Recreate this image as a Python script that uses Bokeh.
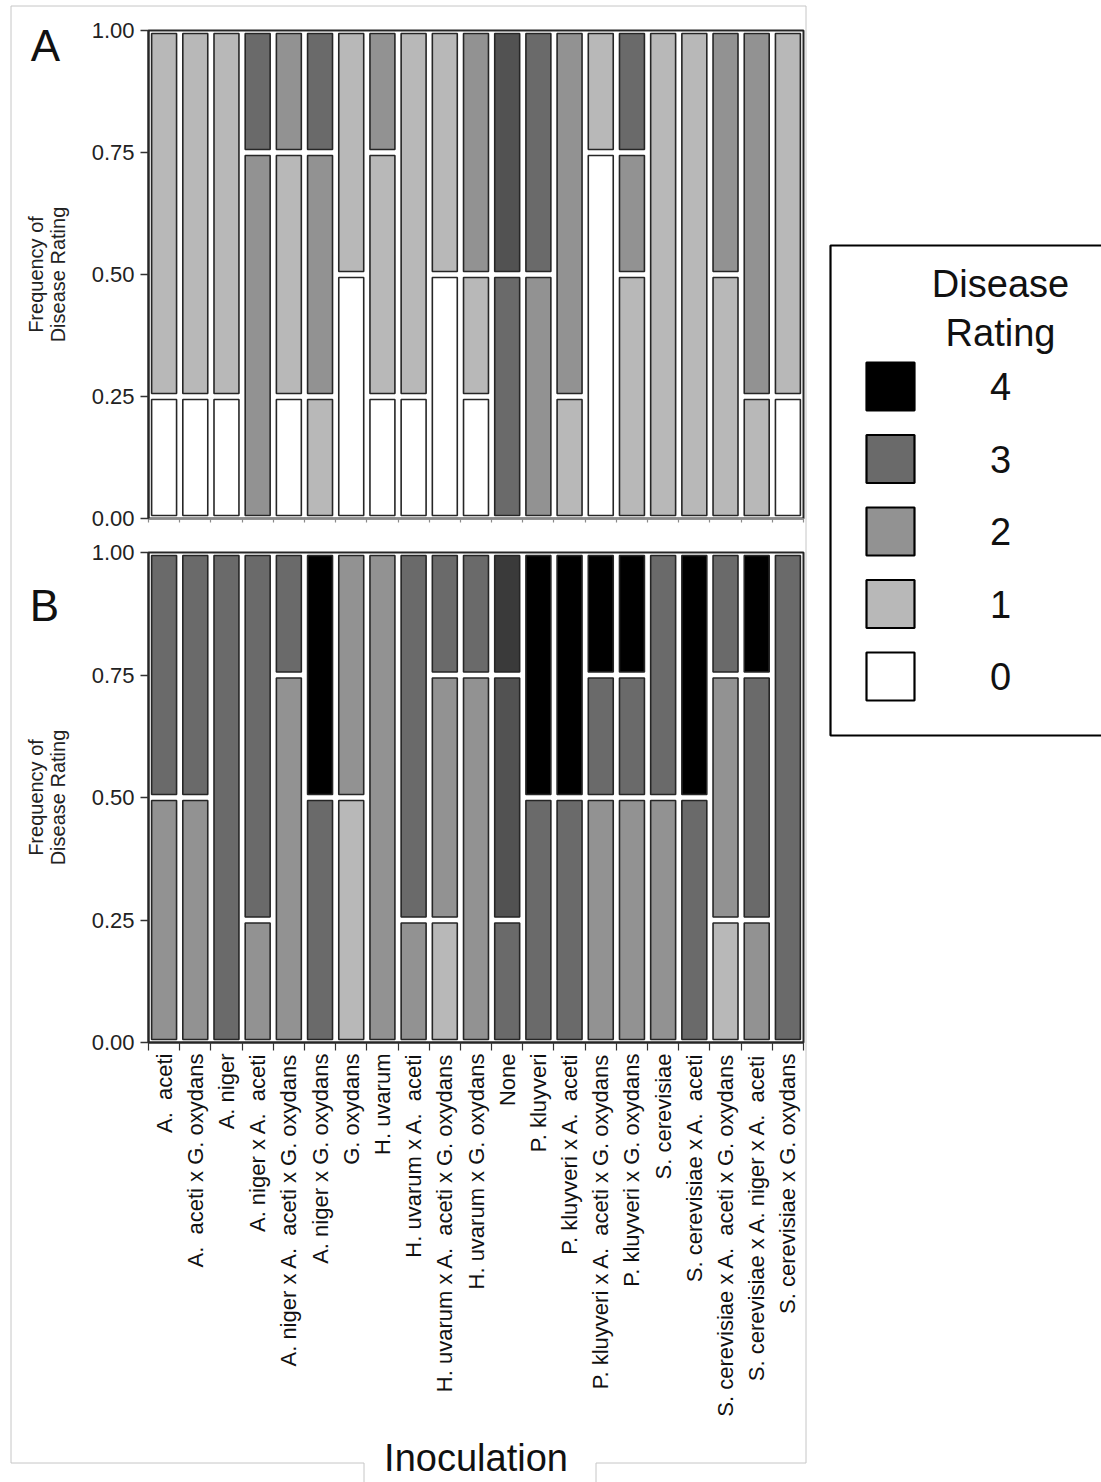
import math

from bokeh.core.properties import value
from bokeh.embed import file_html
from bokeh.layouts import column, row
from bokeh.models import ColumnDataSource, FixedTicker, NumeralTickFormatter, Range1d
from bokeh.plotting import figure
from bokeh.resources import INLINE

FONT = "Liberation Sans"

# ---------------------------------------------------------------- data
inoculations = [
    "A.\u00a0 aceti",
    "A.\u00a0 aceti x G. oxydans",
    "A. niger",
    "A. niger x A.\u00a0 aceti",
    "A. niger x A.\u00a0 aceti x G. oxydans",
    "A. niger x G. oxydans",
    "G. oxydans",
    "H. uvarum",
    "H. uvarum x A.\u00a0 aceti",
    "H. uvarum x A.\u00a0 aceti x G. oxydans",
    "H. uvarum x G. oxydans",
    "None",
    "P. kluyveri",
    "P. kluyveri x A.\u00a0 aceti",
    "P. kluyveri x A.\u00a0 aceti x G. oxydans",
    "P. kluyveri x G. oxydans",
    "S. cerevisiae",
    "S. cerevisiae x A.\u00a0 aceti",
    "S. cerevisiae x A.\u00a0 aceti x G. oxydans",
    "S. cerevisiae x A. niger x A.\u00a0 aceti",
    "S. cerevisiae x G. oxydans",
]

# disease rating of each replicate, sorted low to high
ratings_a = [
    ["0", "1", "1", "1"],
    ["0", "1", "1", "1"],
    ["0", "1", "1", "1"],
    ["2", "2", "2", "3"],
    ["0", "1", "1", "2"],
    ["1", "2", "2", "3"],
    ["0", "0", "1", "1"],
    ["0", "1", "1", "2"],
    ["0", "1", "1", "1"],
    ["0", "0", "1", "1"],
    ["0", "1", "2", "2"],
    ["3", "3", "3+", "3+"],
    ["2", "2", "3", "3"],
    ["1", "2", "2", "2"],
    ["0", "0", "0", "1"],
    ["1", "1", "2", "3"],
    ["1", "1", "1", "1"],
    ["1", "1", "1", "1"],
    ["1", "1", "2", "2"],
    ["1", "2", "2", "2"],
    ["0", "1", "1", "1"],
]

ratings_b = [
    ["2", "2", "3", "3"],
    ["2", "2", "3", "3"],
    ["3", "3", "3", "3"],
    ["2", "3", "3", "3"],
    ["2", "2", "2", "3"],
    ["3", "3", "4", "4"],
    ["1", "1", "2", "2"],
    ["2", "2", "2", "2"],
    ["2", "3", "3", "3"],
    ["1", "2", "2", "3"],
    ["2", "2", "2", "3"],
    ["3", "3+", "3+", "3++"],
    ["3", "3", "4", "4"],
    ["3", "3", "4", "4"],
    ["2", "2", "3", "4"],
    ["2", "2", "3", "4"],
    ["2", "2", "3", "3"],
    ["3", "3", "4", "4"],
    ["1", "2", "2", "3"],
    ["2", "3", "3", "4"],
    ["3", "3", "3", "3"],
]

legend_ratings = ["4", "3", "2", "1", "0"]
panel_letters = ["A", "B"]
y_ticks = [0.0, 0.25, 0.5, 0.75, 1.0]

# ---------------------------------------------------------------- styling
SHADES = {
    "0": "#ffffff",
    "1": "#b8b8b8",
    "2": "#929292",
    "3": "#6a6a6a",
    "3+": "#525252",
    "3++": "#3a3a3a",
    "4": "#000000",
}
EDGE = "#262626"
FRAME_GREY = "#c6c6c6"
BAR_WIDTH = 0.8
GAP = 0.006  # white space kept round every block

PAGE_W, PAGE_H = 1101, 1482
PANEL_W = 810
FRAME_LEFT = 148
FRAME_W = 655

n_cat = len(inoculations)
centers = [i + 0.5 for i in range(n_cat)]
boundaries = [float(i) for i in range(n_cat + 1)]


def mosaic_source(ratings):
    """Stack consecutive equal ratings into one block per category."""
    left, right, bottom, top, color = [], [], [], [], []
    for c, plants in zip(centers, ratings):
        n = len(plants)
        start = 0
        for k in range(1, n + 1):
            if k == n or plants[k] != plants[start]:
                left.append(c - BAR_WIDTH / 2)
                right.append(c + BAR_WIDTH / 2)
                bottom.append(start / n + GAP)
                top.append(k / n - GAP)
                color.append(SHADES[plants[start]])
                start = k
    return ColumnDataSource(dict(left=left, right=right, bottom=bottom,
                                 top=top, color=color))


def panel(ratings, height, border_top, border_bottom):
    p = figure(width=PANEL_W, height=height,
               x_range=Range1d(0, n_cat), y_range=Range1d(0, 1),
               min_border_left=FRAME_LEFT,
               min_border_right=PANEL_W - FRAME_LEFT - FRAME_W,
               min_border_top=border_top, min_border_bottom=border_bottom,
               output_backend="svg", toolbar_location=None, tools="")
    p.grid.visible = False
    p.outline_line_color = EDGE
    p.outline_line_width = 2
    p.background_fill_color = "white"
    p.border_fill_color = "white"

    p.quad(left="left", right="right", bottom="bottom", top="top",
           fill_color="color", line_color=EDGE, line_width=1.6,
           source=mosaic_source(ratings))

    yax = p.yaxis[0]
    yax.ticker = FixedTicker(ticks=y_ticks)
    yax.formatter = NumeralTickFormatter(format="0.00")
    yax.axis_line_color = EDGE
    yax.axis_line_width = 2
    yax.major_tick_line_color = "#333333"
    yax.major_tick_line_width = 1.5
    yax.major_tick_out = 8
    yax.major_tick_in = 0
    yax.minor_tick_line_color = None
    yax.major_label_text_font = FONT
    yax.major_label_text_font_size = "22px"
    yax.major_label_text_color = "#222222"
    yax.major_label_standoff = 6
    yax.axis_label = "Frequency of\nDisease Rating"
    yax.axis_label_text_font = FONT
    yax.axis_label_text_font_size = "20px"
    yax.axis_label_text_font_style = "normal"
    yax.axis_label_text_color = "#222222"
    yax.axis_label_text_line_height = 0.98
    yax.axis_label_standoff = 20

    xax = p.xaxis[0]
    xax.axis_line_color = EDGE
    xax.axis_line_width = 2
    xax.major_tick_line_color = None
    xax.major_tick_out = 0
    xax.major_tick_in = 0
    xax.minor_tick_line_color = "#333333"
    xax.minor_tick_line_width = 1.2
    xax.minor_tick_in = 0
    return p


# ---------------------------------------------------------------- panel A
pa = panel(ratings_a, height=532, border_top=30, border_bottom=14)
pa.xaxis.ticker = FixedTicker(ticks=[], minor_ticks=boundaries)
pa.xaxis.minor_tick_out = 4
pa.xaxis.minor_tick_line_color = "#8a8a8a"
pa.xaxis.axis_line_color = "#8a8a8a"
pa.xaxis.axis_line_width = 1

# ---------------------------------------------------------------- panel B
pb = panel(ratings_b, height=950, border_top=20, border_bottom=440)
pb.xaxis.ticker = FixedTicker(ticks=centers, minor_ticks=boundaries)
pb.xaxis.minor_tick_out = 8
pb.xaxis.major_label_overrides = {c: name for c, name in zip(centers, inoculations)}
pb.xaxis.major_label_orientation = math.pi / 2
pb.xaxis.major_label_text_font = FONT
pb.xaxis.major_label_text_font_size = "22px"
pb.xaxis.major_label_text_color = "#111111"
pb.xaxis.major_label_standoff = 3
pb.xaxis.axis_label = "Inoculation"
pb.xaxis.axis_label_text_font = FONT
pb.xaxis.axis_label_text_font_size = "38px"
pb.xaxis.axis_label_text_font_style = "normal"
pb.xaxis.axis_label_text_color = "#111111"
pb.xaxis.axis_label_standoff = 17

# ---------------------------------------------------------------- legend
LEG_W = PAGE_W - PANEL_W
pl = figure(width=LEG_W, height=PAGE_H,
            x_range=Range1d(0, LEG_W), y_range=Range1d(PAGE_H, 0),
            x_axis_type=None, y_axis_type=None, min_border=0,
            output_backend="svg", toolbar_location=None, tools="")
pl.grid.visible = False
pl.outline_line_color = None
pl.border_fill_color = "white"

# legend box, its right side runs past the page edge
pl.quad(left=[20], right=[LEG_W + 20], top=[245], bottom=[735],
        fill_color=None, line_color="#000000", line_width=2.2)
pl.text(x=[190], y=[308], text=["Disease\nRating"],
        text_font=value(FONT), text_font_size="38px", text_color="#111111",
        text_align="center", text_baseline="middle", text_line_height=1.18)

SW_TOP, SW_STEP, SW_SIZE = 362, 72.5, 48
sw_top = [SW_TOP + k * SW_STEP for k in range(len(legend_ratings))]
legend_src = ColumnDataSource(dict(
    left=[56] * len(legend_ratings),
    right=[56 + SW_SIZE] * len(legend_ratings),
    top=sw_top,
    bottom=[t + SW_SIZE for t in sw_top],
    mid=[t + SW_SIZE / 2 for t in sw_top],
    color=[SHADES[r] for r in legend_ratings],
    label=legend_ratings,
))
pl.quad(left="left", right="right", top="top", bottom="bottom",
        fill_color="color", line_color="#000000", line_width=2.2,
        source=legend_src)
pl.text(x=190, y="mid", text="label", source=legend_src,
        text_font=value(FONT), text_font_size="38px", text_color="#111111",
        text_align="center", text_baseline="middle")

# ---------------------------------------------------------------- page decoration
# transparent sheet over the whole page: thin outer frame and panel letters
deco = figure(width=PAGE_W, height=PAGE_H,
              x_range=Range1d(0, PAGE_W), y_range=Range1d(PAGE_H, 0),
              x_axis_type=None, y_axis_type=None, min_border=0,
              output_backend="svg", toolbar_location=None, tools="",
              styles={"position": "absolute", "left": "0px", "top": "0px",
                      "pointer-events": "none"})
deco.grid.visible = False
deco.outline_line_color = None
deco.background_fill_color = None
deco.border_fill_color = None

deco.line(x=[363.5, 363.5, 10.5, 10.5, 805.5, 805.5, 595.5, 595.5],
          y=[PAGE_H, 1462.5, 1462.5, 5.5, 5.5, 1462.5, 1462.5, PAGE_H],
          line_color=FRAME_GREY, line_width=1)
deco.text(x=[45, 44], y=[45, 605], text=panel_letters,
          text_font=value(FONT), text_font_size="44px", text_color="#111111",
          text_align="center", text_baseline="middle")

layout = row(column(pa, pb, spacing=0), pl, deco, spacing=0)

with open("out.html", "w") as f:
    f.write(file_html(layout, INLINE))
